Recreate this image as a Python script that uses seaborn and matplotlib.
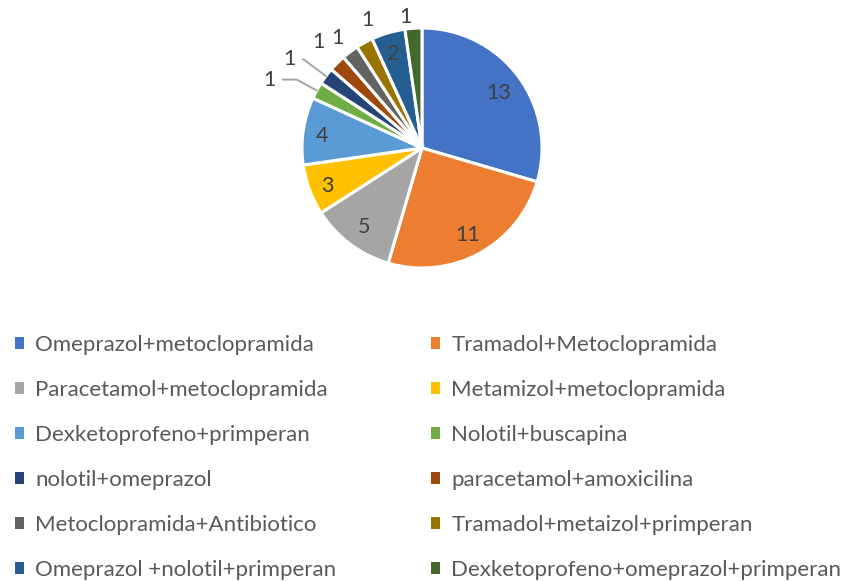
import numpy as np
import matplotlib
matplotlib.use('Agg')
import matplotlib.pyplot as plt
import seaborn as sns
from matplotlib.patches import Patch

sns.set_theme(style='white')
plt.rcParams['font.family'] = ['Lato', 'DejaVu Sans']

# ----------------------------------------------------------------------
# data
# ----------------------------------------------------------------------
labels = ['Omeprazol+metoclopramida', 'Tramadol+Metoclopramida',
          'Paracetamol+metoclopramida', 'Metamizol+metoclopramida',
          'Dexketoprofeno+primperan', 'Nolotil+buscapina',
          'nolotil+omeprazol', 'paracetamol+amoxicilina',
          'Metoclopramida+Antibiotico', 'Tramadol+metaizol+primperan',
          'Omeprazol +nolotil+primperan', 'Dexketoprofeno+omeprazol+primperan']
counts = [13, 11, 5, 3, 4, 1, 1, 1, 1, 1, 2, 1]

colors = sns.color_palette(['#4472C4', '#ED7D31', '#A5A5A5', '#FFC000',
                            '#5B9BD5', '#70AD47', '#264478', '#9E480E',
                            '#636363', '#997300', '#255E91', '#43682B'])

# outside labels for the small slices: index -> (radius, angle nudge in deg)
outer = {5: (1.405, 3.8), 6: (1.342, 2.4), 7: (1.25, -1.1),
         8: (1.172, 0.0), 9: (1.18, -6.2), 11: (1.117, 3.2)}
leader = (5, 6)

# ----------------------------------------------------------------------
# plot
# ----------------------------------------------------------------------
W, H = 861, 581
fig = plt.figure(figsize=(W / 100, H / 100), dpi=100)
cx, cy, R = 422, 148, 120
span = 1.5
ax = fig.add_axes([(cx - R * span) / W, (H - cy - R * span) / H,
                   2 * R * span / W, 2 * R * span / H])

wedges, _ = ax.pie(counts, colors=colors, startangle=90, counterclock=False,
                   wedgeprops=dict(edgecolor='white', linewidth=2.2))
ax.set_xlim(-span, span)
ax.set_ylim(-span, span)
ax.set_aspect('equal')
ax.axis('off')

txt_color = '#404040'
fs_num = 15.5
for i, w in enumerate(wedges):
    mid_deg = (w.theta1 + w.theta2) / 2
    mid = np.deg2rad(mid_deg)
    dx, dy = np.cos(mid), np.sin(mid)
    if i not in outer:
        rr = 0.8 if counts[i] > 4 else 0.84
        ax.text(rr * dx, rr * dy - 0.02, str(counts[i]), ha='center', va='center',
                fontsize=fs_num, color=txt_color)
        continue
    r, nudge = outer[i]
    a = np.deg2rad(mid_deg + nudge)
    tx, ty = r * np.cos(a), r * np.sin(a)
    if i in leader:
        ax.annotate(str(counts[i]), xy=(dx, dy), xytext=(tx, ty - 0.02),
                    ha='center', va='center', fontsize=fs_num, color=txt_color,
                    arrowprops=dict(arrowstyle='-', color='#A5A5A5', lw=1.4,
                                    shrinkA=3, shrinkB=0,
                                    connectionstyle='angle,angleA=0,angleB=%f,rad=0'
                                    % mid_deg))
    else:
        ax.text(tx, ty - 0.02, str(counts[i]), ha='center', va='center',
                fontsize=fs_num, color=txt_color)

# legend, two columns filled row by row
handles = [Patch(facecolor=c, edgecolor='none') for c in colors]
leg_kw = dict(frameon=False, fontsize=16, labelcolor='#595959', handlelength=0.42,
              handleheight=0.42, handletextpad=0.5, labelspacing=1.125,
              borderaxespad=0, borderpad=0)
leg1 = fig.legend(handles[0::2], labels[0::2], loc='upper left',
                  bbox_to_anchor=(15 / W, 1 - 335 / H), **leg_kw)
leg2 = fig.legend(handles[1::2], labels[1::2], loc='upper left',
                  bbox_to_anchor=(431 / W, 1 - 335 / H), **leg_kw)

plt.savefig('out.png', dpi=100)
